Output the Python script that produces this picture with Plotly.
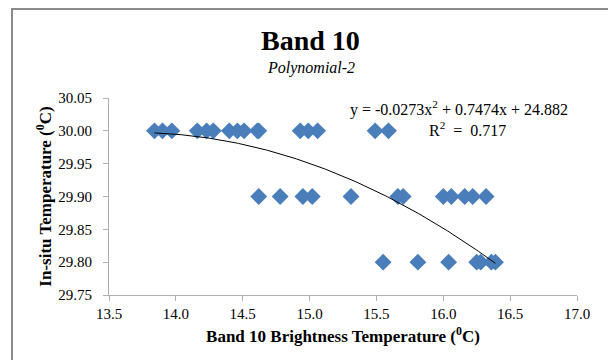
import numpy as np
import plotly.graph_objects as go

# Band 10 brightness temperature (x) and in-situ temperature (y)
x_30_00 = [13.84, 13.90, 13.97, 14.16, 14.23, 14.28, 14.40, 14.46, 14.51, 14.61,
           14.62, 14.93, 14.99, 15.06, 15.49, 15.59]
x_29_90 = [14.62, 14.78, 14.95, 15.02, 15.31, 15.66, 15.70, 16.00, 16.06, 16.16,
           16.22, 16.32]
x_29_80 = [15.55, 15.81, 16.04, 16.25, 16.28, 16.36, 16.39]

bt = x_30_00 + x_29_90 + x_29_80
insitu = [30.00] * len(x_30_00) + [29.90] * len(x_29_90) + [29.80] * len(x_29_80)

# Polynomial (order 2) trendline coefficients as reported
coef_a, coef_b, coef_c = -0.0273, 0.7474, 24.882
r_squared = 0.717

x_ticks = [13.5, 14.0, 14.5, 15.0, 15.5, 16.0, 16.5, 17.0]
y_ticks = [29.75, 29.80, 29.85, 29.90, 29.95, 30.00, 30.05]

xs = np.linspace(min(bt), max(bt), 200)
ys = coef_a * xs**2 + coef_b * xs + coef_c

fig = go.Figure()
fig.add_trace(go.Scatter(
    x=bt, y=insitu, mode="markers",
    marker=dict(symbol="diamond", size=13, color="#4a7ebb"),
    showlegend=False, hoverinfo="x+y"))
fig.add_trace(go.Scatter(
    x=xs, y=ys, mode="lines",
    line=dict(color="#000000", width=1),
    showlegend=False, hoverinfo="skip"))

serif = "Liberation Serif"

L, R, T, B = 109, 31, 98, 65
PW, PH = 608 - L - R, 360 - T - B


def px(xp):
    return (xp - L) / PW


def py(yp):
    return (360 - B - yp) / PH


fig.update_layout(
    width=608, height=360,
    margin=dict(l=L, r=R, t=T, b=B),
    paper_bgcolor="white", plot_bgcolor="white",
    font=dict(family=serif, size=15, color="#000000"),
    xaxis=dict(range=[13.5, 17.0], tickvals=x_ticks,
               ticktext=[f"{v:.1f}" for v in x_ticks],
               showgrid=False, zeroline=False, showline=True,
               linecolor="#b0b0b0", linewidth=1,
               ticks="outside", ticklen=5, tickcolor="#b0b0b0",
               tickfont=dict(family=serif, size=15, color="#000000"),
               title=dict(text="<b>Band 10 Brightness Temperature (<sup>0</sup>C)</b>",
                          font=dict(family=serif, size=17), standoff=9)),
    yaxis=dict(range=[29.75, 30.05], tickvals=y_ticks,
               ticktext=[f"{v:.2f}" for v in y_ticks],
               showgrid=False, zeroline=False, showline=True,
               linecolor="#b0b0b0", linewidth=1,
               ticks="outside", ticklen=5, tickcolor="#b0b0b0",
               ticklabelstandoff=8,
               tickfont=dict(family=serif, size=15, color="#000000"),
               title=dict(text="<b>In-situ Temperature (<sup>0</sup>C)</b>",
                          font=dict(family=serif, size=17), standoff=2)),
    annotations=[
        dict(text="<b>Band 10</b>", xref="paper", yref="paper",
             x=px(310), y=py(40), xanchor="center", yanchor="middle",
             showarrow=False, font=dict(family=serif, size=28, color="#000000")),
        dict(text="<i>Polynomial-2</i>", xref="paper", yref="paper",
             x=px(311), y=py(68), xanchor="center", yanchor="middle",
             showarrow=False, font=dict(family=serif, size=16, color="#000000")),
        dict(text=f"y = {coef_a}x<sup>2</sup> + {coef_b}x + {coef_c}",
             xref="paper", yref="paper",
             x=px(459), y=py(109), xanchor="center", yanchor="middle",
             showarrow=False, font=dict(family=serif, size=16, color="#000000")),
        dict(text=f"R<sup>2</sup>  =  {r_squared}",
             xref="paper", yref="paper",
             x=px(467), y=py(129), xanchor="center", yanchor="middle",
             showarrow=False, font=dict(family=serif, size=16, color="#000000")),
    ],
    shapes=[dict(type="rect", xref="paper", yref="paper",
                 x0=px(12), y0=-0.5, x1=1.2, y1=py(9),
                 line=dict(color="#8c8c8c", width=2), layer="below")],
)

fig.write_html("out.html", config={"displayModeBar": False},
               post_script="document.body.style.margin='0';")
